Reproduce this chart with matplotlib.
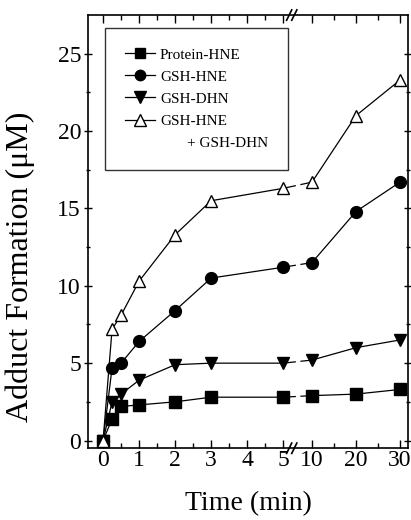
import numpy as np
import matplotlib
matplotlib.use('Agg')
import matplotlib.pyplot as plt
from matplotlib.lines import Line2D

plt.rcParams['font.family'] = ['Liberation Serif', 'DejaVu Serif']

# time points (min) and adduct formation (uM)
time = [0, 0.25, 0.5, 1, 2, 3, 5, 10, 20, 30]
protein_hne = [0, 1.4, 2.2, 2.3, 2.5, 2.8, 2.8, 2.9, 3.0, 3.3]
gsh_hne = [0, 4.7, 5.0, 6.4, 8.4, 10.5, 11.2, 11.5, 14.8, 16.7]
gsh_dhn = [0, 2.5, 3.0, 3.9, 4.9, 5.0, 5.0, 5.2, 6.0, 6.5]
gsh_sum = [0, 7.2, 8.1, 10.3, 13.3, 15.5, 16.3, 16.7, 21.0, 23.3]

x_major = [0, 1, 2, 3, 4, 5, 10, 20, 30]
x_minor = [0.5, 1.5, 2.5, 3.5, 4.5, 15, 25]


def tx(t):
    # broken axis: 0-5 linear, then 10-30 compressed
    t = np.asarray(t, dtype=float)
    return np.where(t <= 5, t, 5.8 + (t - 10) * 0.1222)


fig = plt.figure(figsize=(4.11, 5.2), dpi=100)
ax = fig.add_axes([0.214, 0.138, 0.779, 0.833])

series = [
    (protein_hne, 's', 'black', 'Protein-HNE', 8),
    (gsh_hne, 'o', 'black', 'GSH-HNE', 8.5),
    (gsh_dhn, 'v', 'black', 'GSH-DHN', 9),
    (gsh_sum, '^', 'white', 'GSH-HNE', 9),
]

u = tx(time)
handles = []
for vals, mk, fc, lab, ms in series:
    v = np.asarray(vals)
    pre = u <= 5
    post = u > 5.5
    ax.plot(u[pre], v[pre], '-', color='black', lw=0.9, zorder=2)
    ax.plot(u[post], v[post], '-', color='black', lw=0.9, zorder=2)
    # segment across the break, drawn with a gap
    i5 = np.where(pre)[0][-1]
    i10 = i5 + 1
    for f0, f1 in [(0, 0.42), (0.62, 1)]:
        xs = [u[i5] + f0 * (u[i10] - u[i5]), u[i5] + f1 * (u[i10] - u[i5])]
        ys = [v[i5] + f0 * (v[i10] - v[i5]), v[i5] + f1 * (v[i10] - v[i5])]
        ax.plot(xs, ys, '-', color='black', lw=0.9, zorder=2)
    ax.plot(u, v, linestyle='none', marker=mk, ms=ms, mfc=fc, mec='black',
            mew=1.0, zorder=3)
    handles.append(Line2D([], [], color='black', lw=0.9, marker=mk, ms=ms - 1,
                          mfc=fc, mec='black', mew=1.0, label=lab))
handles.append(Line2D([], [], linestyle='none', label='       + GSH-DHN'))

ax.set_xlim(-0.42, 8.47)
ax.set_ylim(-0.5, 27.5)

ax.set_xticks(tx(x_major))
ax.set_xticklabels([str(t) for t in x_major])
ax.set_xticks(tx(x_minor), minor=True)
ax.set_yticks([0, 5, 10, 15, 20, 25])
ax.set_yticks([2.5, 7.5, 12.5, 17.5, 22.5], minor=True)

ax.tick_params(which='both', direction='in', top=True, right=True,
               labelsize=17, width=1)
ax.tick_params(axis='y', which='both', left=True, direction='inout')
ax.tick_params(which='major', length=6)
ax.tick_params(which='minor', length=3.5)
ax.tick_params(axis='x', pad=1)
ax.tick_params(axis='y', pad=2)
for s in ax.spines.values():
    s.set_linewidth(1.2)

# break marks
bx = (tx(5.4) - ax.get_xlim()[0]) / (ax.get_xlim()[1] - ax.get_xlim()[0])
for yy in (0, 1):
    for dx in (-0.008, 0.008):
        ax.plot([bx + dx - 0.008, bx + dx + 0.008], [yy - 0.012, yy + 0.012],
                transform=ax.transAxes, color='black', lw=1.2, clip_on=False)

leg = ax.legend(handles=handles, loc='upper left',
                bbox_to_anchor=(0.053, 0.97), borderaxespad=0, fontsize=11,
                frameon=True, fancybox=False, edgecolor='black',
                handlelength=2.0, handletextpad=0.3, borderpad=1.3,
                labelspacing=0.55)
leg.get_frame().set_linewidth(1.0)

ax.set_ylabel('Adduct Formation (\u03bcM)', fontsize=23)
ax.yaxis.set_label_coords(-0.165, 0.42)
ax.set_xlabel('Time (min)', fontsize=20, labelpad=15)

fig.savefig('out.png', dpi=100)
